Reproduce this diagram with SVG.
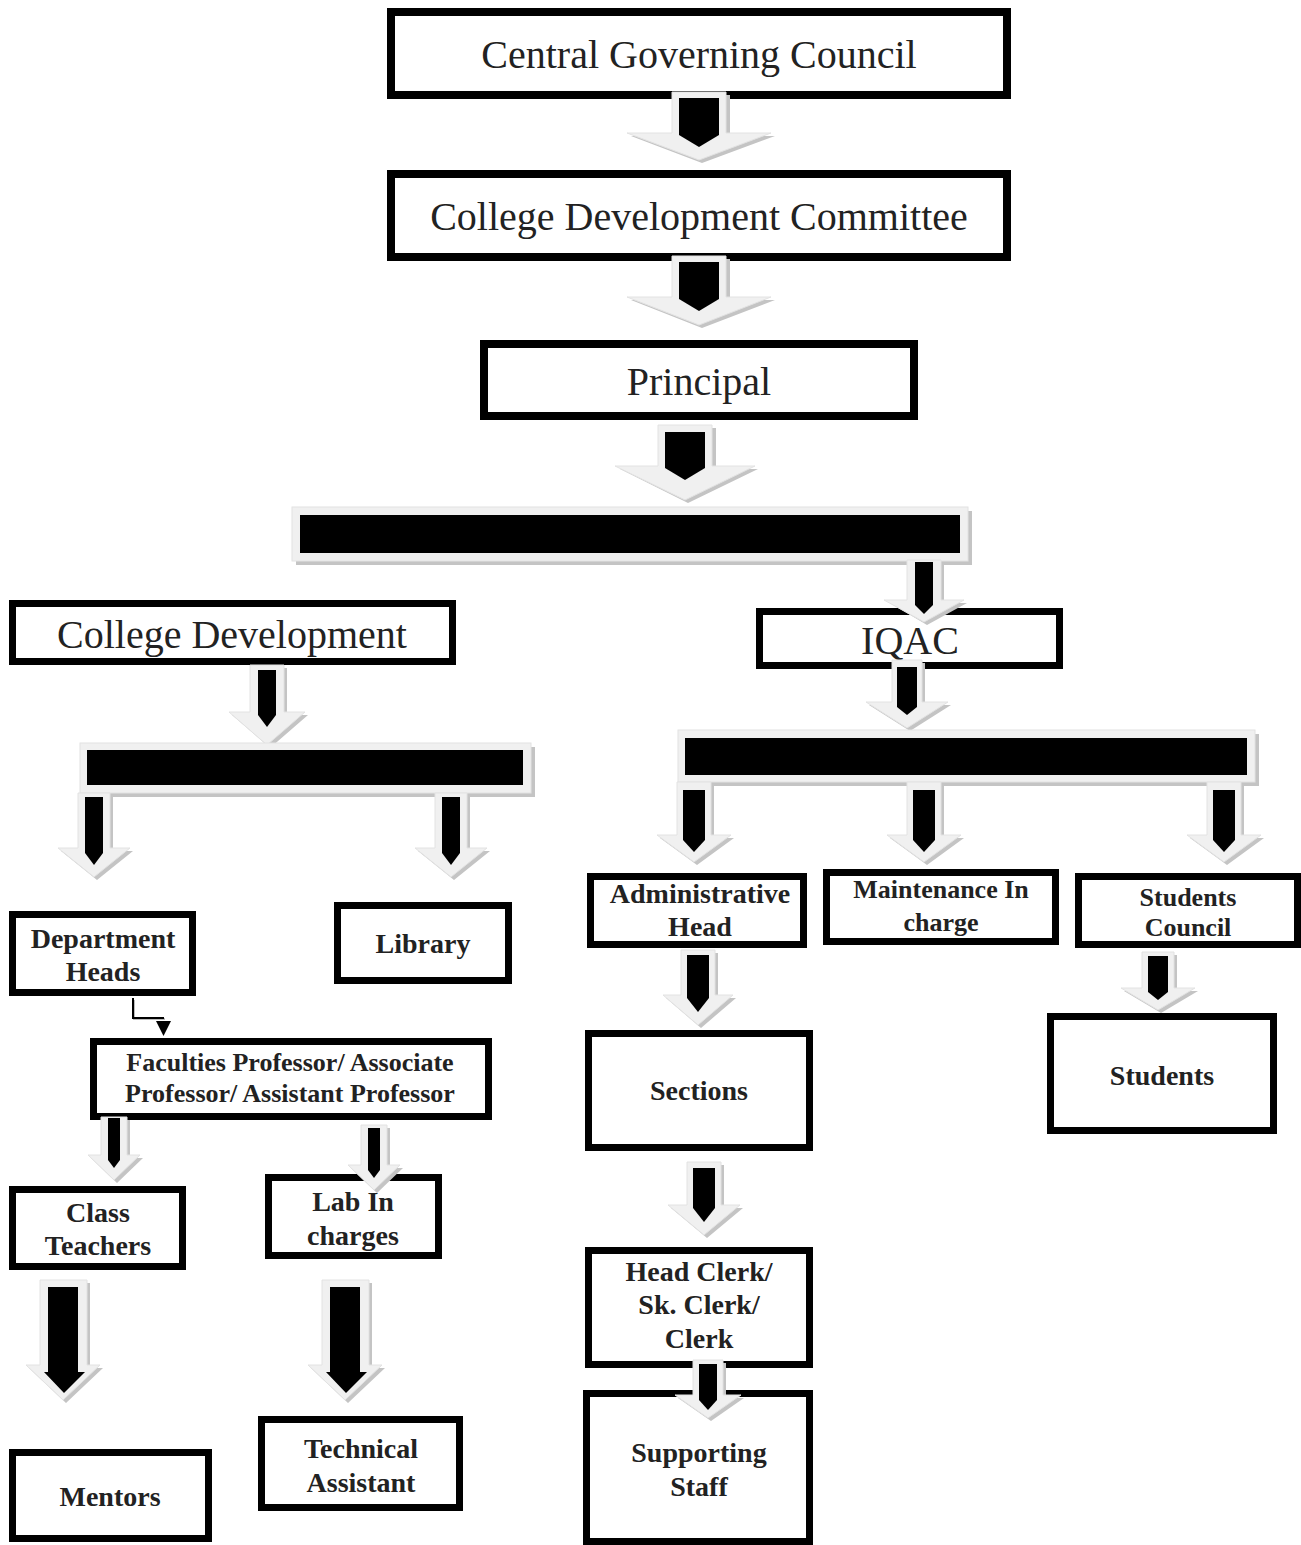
<svg xmlns="http://www.w3.org/2000/svg" width="1301" height="1545" viewBox="0 0 1301 1545">
<style>
.box{fill:#fff;stroke:#000}
.b8{stroke-width:8}
.b7{stroke-width:7}
.t{font-family:"Liberation Serif","Times New Roman",serif;fill:#222;text-anchor:middle}
.big{font-size:40px}
.bold{font-size:28px;font-weight:bold}
.bsm{font-size:26px;font-weight:bold}
.sh{fill:#c4c4c4}
.gr{fill:#f0f0f0;stroke:#e2e2e2;stroke-width:1}
.bk{fill:#000}
</style>
<rect width="1301" height="1545" fill="#fff"/>
<g id="nodes">
<g id="n-cgc"><rect class="box b8" x="391" y="12" width="616" height="83"/><text class="t big" x="699" y="68">Central Governing Council</text></g>
<g id="n-cdc"><rect class="box b8" x="391" y="174" width="616" height="83"/><text class="t big" x="699" y="230">College Development Committee</text></g>
<g id="n-principal"><rect class="box b8" x="484" y="344" width="430" height="72"/><text class="t big" x="699" y="395">Principal</text></g>
<g id="n-cd"><rect class="box b7" x="12.5" y="603.5" width="440" height="58"/><text class="t big" x="232" y="648">College Development</text></g>
<g id="n-iqac"><rect class="box b7" x="759.5" y="611.5" width="300" height="54"/><text class="t big" x="910" y="654">IQAC</text></g>
<g id="n-admin"><rect class="box b7" x="590.5" y="876.5" width="213" height="68"/><text class="t bold" x="700" y="903">Administrative</text><text class="t bold" x="700" y="936">Head</text></g>
<g id="n-maint"><rect class="box b7" x="826.5" y="872.5" width="229" height="69"/><text class="t bsm" x="941" y="898">Maintenance In</text><text class="t bsm" x="941" y="931">charge</text></g>
<g id="n-sc"><rect class="box b7" x="1078.5" y="876.5" width="219" height="68"/><text class="t bsm" x="1188" y="906">Students</text><text class="t bsm" x="1188" y="936">Council</text></g>
<g id="n-sections"><rect class="box b7" x="588.5" y="1033.5" width="221" height="114"/><text class="t bold" x="699" y="1100">Sections</text></g>
<g id="n-headclerk"><rect class="box b7" x="588.5" y="1250.5" width="221" height="114"/><text class="t bold" x="699" y="1281">Head Clerk/</text><text class="t bold" x="699" y="1314">Sk. Clerk/</text><text class="t bold" x="699" y="1348">Clerk</text></g>
<g id="n-support"><rect class="box b7" x="586.5" y="1393.5" width="223" height="148"/><text class="t bold" x="699" y="1462">Supporting</text><text class="t bold" x="699" y="1496">Staff</text></g>
<g id="n-students"><rect class="box b7" x="1050.5" y="1016.5" width="223" height="114"/><text class="t bold" x="1162" y="1085">Students</text></g>
<g id="n-depthead"><rect class="box b7" x="12.5" y="914.5" width="180" height="78"/><text class="t bold" x="103" y="948">Department</text><text class="t bold" x="103" y="981">Heads</text></g>
<g id="n-library"><rect class="box b7" x="337.5" y="905.5" width="171" height="75"/><text class="t bold" x="423" y="953">Library</text></g>
<g id="n-faculties"><rect class="box b7" x="93.5" y="1041.5" width="395" height="75"/><text class="t bsm" x="290" y="1071">Faculties Professor/ Associate</text><text class="t bsm" x="290" y="1102">Professor/ Assistant Professor</text></g>
<g id="n-class"><rect class="box b7" x="12.5" y="1189.5" width="170" height="77"/><text class="t bold" x="98" y="1222">Class</text><text class="t bold" x="98" y="1255">Teachers</text></g>
<g id="n-lab"><rect class="box b7" x="268.5" y="1177.5" width="170" height="78"/><text class="t bold" x="353" y="1211">Lab In</text><text class="t bold" x="353" y="1245">charges</text></g>
<g id="n-mentors"><rect class="box b7" x="12.5" y="1452.5" width="196" height="86"/><text class="t bold" x="110" y="1506">Mentors</text></g>
<g id="n-tech"><rect class="box b7" x="261.5" y="1419.5" width="198" height="88"/><text class="t bold" x="361" y="1458">Technical</text><text class="t bold" x="361" y="1492">Assistant</text></g>
</g>
<g id="connectors">
<!-- A1 -->
<polygon class="sh" points="675,95 730,95 730,136 775,136 702,163 631,136 675,136"/>
<polygon class="gr" points="672,92 726,92 726,133 771,133 699,160 627,133 672,133"/>
<polygon class="bk" points="679,98 719,98 719,135 699,147 679,135"/>
<!-- A2 -->
<polygon class="sh" points="675,259 730,259 730,300 775,300 702,328 631,300 675,300"/>
<polygon class="gr" points="672,256 726,256 726,297 771,297 699,325 627,297 672,297"/>
<polygon class="bk" points="679,262 719,262 719,299 699,311 679,299"/>
<!-- A3 -->
<polygon class="sh" points="661,428 716,428 716,469 758,469 688,503 620,469 661,469"/>
<polygon class="gr" points="658,425 712,425 712,466 755,466 685,500 615,466 658,466"/>
<polygon class="bk" points="665,432 705,432 705,468 685,480 665,468"/>
<!-- top bar -->
<rect class="sh" x="296" y="511" width="676" height="54"/>
<rect class="gr" x="292" y="507" width="676" height="54"/>
<rect class="bk" x="300" y="515" width="660" height="38"/>
<!-- A4 bar to IQAC -->
<polygon class="sh" points="910,563 944,563 944,603 967,603 927,625 890,603 910,603"/>
<polygon class="gr" points="907,560 941,560 941,600 964,600 924,622 884,600 907,600"/>
<polygon class="bk" points="915,562 933,562 933,605 924,614 915,605"/>
<!-- A5 CD to left bar -->
<polygon class="sh" points="253,668 287,668 287,715 308,715 270,748 232,715 253,715"/>
<polygon class="gr" points="250,665 284,665 284,712 305,712 267,745 229,712 250,712"/>
<polygon class="bk" points="258,670 276,670 276,715 267,727 258,715"/>
<!-- A6 IQAC to right bar -->
<polygon class="sh" points="895,663 925,663 925,705 951,705 910,731 869,705 895,705"/>
<polygon class="gr" points="892,660 922,660 922,702 948,702 907,728 866,702 892,702"/>
<polygon class="bk" points="897,667 917,667 917,707 907,715 897,707"/>
<!-- left bar -->
<rect class="sh" x="84" y="747" width="451" height="50"/>
<rect class="gr" x="80" y="743" width="451" height="50"/>
<rect class="bk" x="87" y="750" width="436" height="35"/>
<!-- L1 -->
<polygon class="sh" points="81,796 113,796 113,851 133,851 97,880 61,851 81,851"/>
<polygon class="gr" points="78,793 110,793 110,848 130,848 94,877 58,848 78,848"/>
<polygon class="bk" points="85,797 103,797 103,853 94,865 85,853"/>
<!-- L2 -->
<polygon class="sh" points="438,796 470,796 470,851 490,851 454,880 418,851 438,851"/>
<polygon class="gr" points="435,793 467,793 467,848 487,848 451,877 415,848 435,848"/>
<polygon class="bk" points="442,797 460,797 460,853 451,865 442,853"/>
<!-- right bar -->
<rect class="sh" x="682" y="734" width="577" height="52"/>
<rect class="gr" x="678" y="730" width="577" height="52"/>
<rect class="bk" x="685" y="738" width="562" height="37"/>
<!-- R1 -->
<polygon class="sh" points="680,785 714,785 714,838 734,838 697,865 660,838 680,838"/>
<polygon class="gr" points="677,782 711,782 711,835 731,835 694,862 657,835 677,835"/>
<polygon class="bk" points="683,790 705,790 705,840 694,852 683,840"/>
<!-- R2 -->
<polygon class="sh" points="910,785 944,785 944,838 964,838 927,865 890,838 910,838"/>
<polygon class="gr" points="907,782 941,782 941,835 961,835 924,862 887,835 907,835"/>
<polygon class="bk" points="913,790 935,790 935,840 924,852 913,840"/>
<!-- R3 -->
<polygon class="sh" points="1210,785 1244,785 1244,838 1264,838 1227,865 1190,838 1210,838"/>
<polygon class="gr" points="1207,782 1241,782 1241,835 1261,835 1224,862 1187,835 1207,835"/>
<polygon class="bk" points="1213,790 1235,790 1235,840 1224,852 1213,840"/>
<!-- Admin to Sections -->
<polygon class="sh" points="684,953 718,953 718,998 736,998 701,1028 666,998 684,998"/>
<polygon class="gr" points="681,950 715,950 715,995 733,995 698,1025 663,995 681,995"/>
<polygon class="bk" points="687,955 709,955 709,998 698,1012 687,998"/>
<!-- Sections to Head Clerk -->
<polygon class="sh" points="690,1165 724,1165 724,1208 743,1208 707,1238 671,1208 690,1208"/>
<polygon class="gr" points="687,1162 721,1162 721,1205 740,1205 704,1235 668,1205 687,1205"/>
<polygon class="bk" points="693,1168 715,1168 715,1208 704,1222 693,1208"/>
<!-- Head Clerk to Supporting -->
<polygon class="sh" points="696,1363 726,1363 726,1398 744,1398 711,1421 678,1398 696,1398"/>
<polygon class="gr" points="693,1360 723,1360 723,1395 741,1395 708,1418 675,1395 693,1395"/>
<polygon class="bk" points="699,1364 717,1364 717,1400 708,1410 699,1400"/>
<!-- SC to Students -->
<polygon class="sh" points="1145,955 1177,955 1177,991 1198,991 1161,1013 1124,991 1145,991"/>
<polygon class="gr" points="1142,952 1174,952 1174,988 1195,988 1158,1010 1121,988 1142,988"/>
<polygon class="bk" points="1148,956 1168,956 1168,992 1158,1000 1148,992"/>
<!-- Dept heads elbow -->
<polyline points="134,1000 134,1019 165,1019" fill="none" stroke="#bbb" stroke-width="2"/>
<polyline points="133,998 133,1018 164,1018" fill="none" stroke="#000" stroke-width="2"/>
<polygon class="bk" points="156,1021 171,1021 163.5,1036"/>
<!-- Fac to Class -->
<polygon class="sh" points="104,1120 130,1120 130,1158 143,1158 117,1183 91,1158 104,1158"/>
<polygon class="gr" points="101,1117 127,1117 127,1155 140,1155 114,1180 88,1155 101,1155"/>
<polygon class="bk" points="108,1118 120,1118 120,1160 114,1168 108,1160"/>
<!-- Fac to Lab -->
<polygon class="sh" points="364,1128 390,1128 390,1168 403,1168 377,1193 351,1168 364,1168"/>
<polygon class="gr" points="361,1125 387,1125 387,1165 400,1165 374,1190 348,1165 361,1165"/>
<polygon class="bk" points="368,1128 380,1128 380,1170 374,1178 368,1170"/>
<!-- Class to Mentors -->
<polygon class="sh" points="43,1283 90,1283 90,1368 103,1368 66,1403 29,1368 43,1368"/>
<polygon class="gr" points="40,1280 87,1280 87,1365 100,1365 63,1400 26,1365 40,1365"/>
<polygon class="bk" points="48,1287 78,1287 78,1372 85,1372 64,1393 44,1372 48,1372"/>
<!-- Lab to Technical -->
<polygon class="sh" points="325,1283 372,1283 372,1368 385,1368 348,1403 311,1368 325,1368"/>
<polygon class="gr" points="322,1280 369,1280 369,1365 382,1365 345,1400 308,1365 322,1365"/>
<polygon class="bk" points="330,1287 360,1287 360,1372 367,1372 346,1393 326,1372 330,1372"/>
</g>
</svg>
